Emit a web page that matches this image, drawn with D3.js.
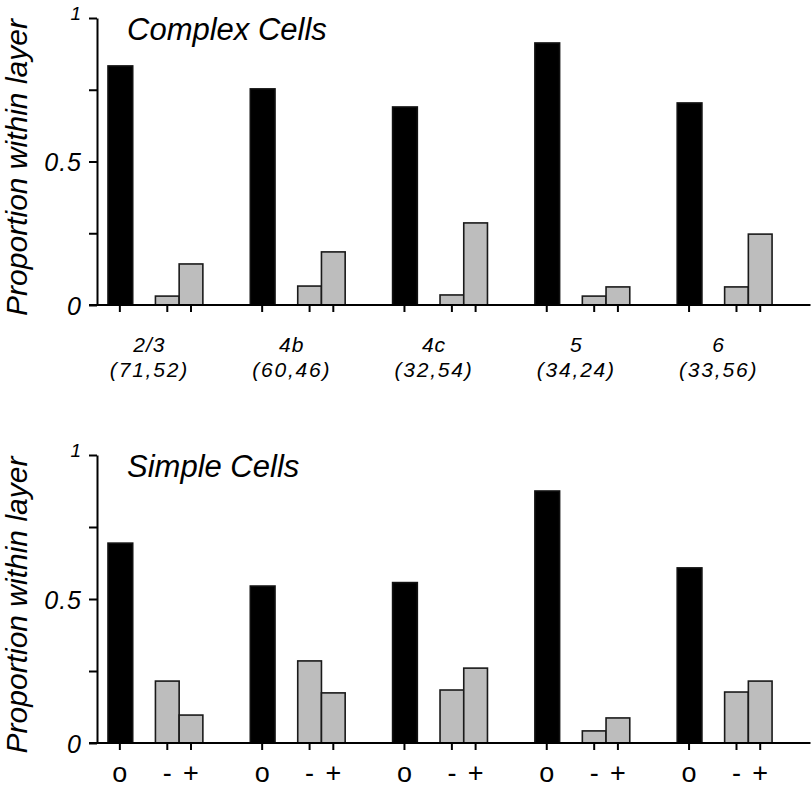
<!DOCTYPE html>
<html>
<head>
<meta charset="utf-8">
<script src="https://cdn.jsdelivr.net/npm/d3@7"></script>
<style>
  html, body { margin: 0; padding: 0; background: #fff; }
  svg { display: block; }
  text { font-family: "Liberation Sans", Arial, sans-serif; fill: #000; }
</style>
</head>
<body>
<svg id="chart" width="812" height="791"></svg>
<script>
// ---- data ----
const layers = ["2/3", "4b", "4c", "5", "6"];
const counts = ["(71,52)", "(60,46)", "(32,54)", "(34,24)", "(33,56)"];
const kinds = ["o", "-", "+"];
const complexO     = [0.833, 0.753, 0.690, 0.913, 0.704];
const complexMinus = [0.031, 0.066, 0.035, 0.031, 0.063];
const complexPlus  = [0.143, 0.185, 0.286, 0.063, 0.247];
const simpleO      = [0.694, 0.545, 0.557, 0.875, 0.608];
const simpleMinus  = [0.215, 0.285, 0.184, 0.042, 0.177];
const simplePlus   = [0.097, 0.174, 0.260, 0.087, 0.215];
const yTicks = [0, 0.25, 0.5, 0.75, 1];
const yTickLabels = {0: "0", 0.5: "0.5", 1: "1"};

const panels = [
  {title: "Complex Cells", o: complexO, minus: complexMinus, plus: complexPlus, top: 18, bottom: 305, showLayers: true},
  {title: "Simple Cells", o: simpleO, minus: simpleMinus, plus: simplePlus, top: 455, bottom: 743, showLayers: false}
];

// ---- layout ----
const svg = d3.select("#chart");
const axisX = 97;
const groupStart = 108, groupWidth = 142.3;
const xGroup = d3.scaleBand().domain(layers).range([groupStart, groupStart + groupWidth * layers.length]).padding(0);
const slot = d3.scaleBand().domain(d3.range(6)).range([0, groupWidth]).padding(0);
const slotOf = {"o": 0, "-": 2, "+": 3};
const grayFill = "#bdbdbd";

panels.forEach(p => {
  const y = d3.scaleLinear().domain([0, 1]).range([p.bottom, p.top]);
  const g = svg.append("g");

  const bars = [];
  layers.forEach((L, i) => {
    bars.push({layer: L, kind: "o", v: p.o[i]});
    bars.push({layer: L, kind: "-", v: p.minus[i]});
    bars.push({layer: L, kind: "+", v: p.plus[i]});
  });
  const bx = d => xGroup(d.layer) + slot(slotOf[d.kind]);
  const bw = slot.bandwidth();

  g.selectAll("rect.bar").data(bars).join("rect")
    .attr("class", "bar")
    .attr("x", d => bx(d))
    .attr("y", d => y(d.v))
    .attr("width", d => d.kind === "o" ? bw + 1 : bw)
    .attr("height", d => y(0) - y(d.v))
    .attr("fill", d => d.kind === "o" ? "#000" : grayFill)
    .attr("stroke", d => d.kind === "o" ? "#111" : "#1a1a1a")
    .attr("stroke-width", 1.6);

  // y axis
  const yAxis = d3.axisLeft(y).tickValues(yTicks).tickSize(8).tickSizeOuter(0).tickPadding(7)
    .tickFormat(d => yTickLabels[d] !== undefined ? yTickLabels[d] : "");
  const ya = g.append("g").attr("transform", `translate(${axisX},0)`).call(yAxis);
  ya.select(".domain").attr("stroke", "#000").attr("stroke-width", 2);
  ya.selectAll(".tick line").attr("stroke", "#000").attr("stroke-width", 2);
  ya.selectAll(".tick text")
    .style("font-family", '"Liberation Sans", Arial, sans-serif')
    .style("font-style", "italic")
    .style("font-size", d => d === 1 ? "19px" : "25px")
    .style("letter-spacing", "1px")
    .attr("dy", d => d === 1 ? "0.1em" : "0.36em")
    .attr("fill", "#000");

  // x baseline
  g.append("line")
    .attr("x1", axisX - 8).attr("x2", xGroup.range()[1] - 9)
    .attr("y1", y(0)).attr("y2", y(0))
    .attr("stroke", "#000").attr("stroke-width", 2.2);

  // x ticks at bar centers
  g.selectAll("line.xt").data(bars).join("line")
    .attr("class", "xt")
    .attr("x1", d => bx(d) + bw / 2).attr("x2", d => bx(d) + bw / 2)
    .attr("y1", y(0)).attr("y2", y(0) + 7)
    .attr("stroke", "#000").attr("stroke-width", 2);

  // title
  g.append("text")
    .attr("x", 127).attr("y", y(1) + 22)
    .style("font-style", "italic").style("font-size", "31px")
    .text(p.title);

  // y label
  g.append("text")
    .attr("transform", `translate(27,${(p.top + p.bottom) / 2 + 6}) rotate(-90)`)
    .attr("text-anchor", "middle")
    .style("font-style", "italic").style("font-size", "30px")
    .text("Proportion within layer");

  if (p.showLayers) {
    const lc = L => xGroup(L) + slot(2) - 6;
    g.selectAll("text.layer").data(layers).join("text")
      .attr("class", "layer")
      .attr("x", d => lc(d)).attr("y", y(0) + 47)
      .attr("text-anchor", "middle")
      .style("font-style", "italic").style("font-size", "21px").style("letter-spacing", "1px")
      .text(d => d);
    g.selectAll("text.count").data(layers).join("text")
      .attr("class", "count")
      .attr("x", d => lc(d)).attr("y", y(0) + 72)
      .attr("text-anchor", "middle")
      .style("font-style", "italic").style("font-size", "21px").style("letter-spacing", "1.8px")
      .text((d, i) => counts[i]);
  } else {
    g.selectAll("text.kind").data(bars).join("text")
      .attr("class", "kind")
      .attr("x", d => bx(d) + bw / 2).attr("y", y(0) + 39)
      .attr("text-anchor", "middle")
      .style("font-size", "27px")
      .text(d => d.kind);
  }
});
</script>
</body>
</html>
